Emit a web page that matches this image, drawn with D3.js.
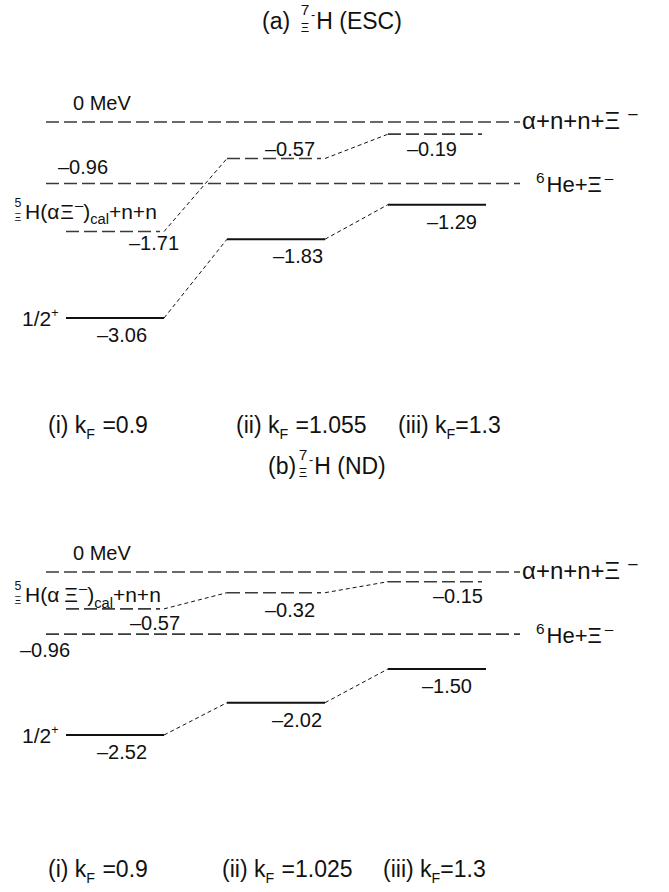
<!DOCTYPE html>
<html>
<head>
<meta charset="utf-8">
<script src="https://cdn.jsdelivr.net/npm/d3@7"></script>
<style>
  html, body { margin: 0; padding: 0; background: #fff; }
  svg { display: block; font-family: "Liberation Sans", Arial, Helvetica, sans-serif; }
  text { fill: #111; }
</style>
</head>
<body>
<svg id="chart" width="669" height="892"></svg>
<script>
// Energy levels of the 7-body Xi hypernucleus for three Fermi momenta (MeV)
const configs = ["(i)", "(ii)", "(iii)"];
const kFEsc = ["0.9", "1.055", "1.3"];
const kFNd = ["0.9", "1.025", "1.3"];
const escGround = [-3.06, -1.83, -1.29];
const escCore = [-1.71, -0.57, -0.19];
const ndGround = [-2.52, -2.02, -1.50];
const ndCore = [-0.57, -0.32, -0.15];
const thresholds = [0, -0.96];

const fmt = v => (v < 0 ? "\u2013" : "") + Math.abs(v).toFixed(2);

const svg = d3.select("#chart");

// Column positions shared by both panels
const x = d3.scaleBand().domain(configs).range([66, 486]).paddingInner(0.391);
const threshX = [46, 520];

// Text with inline super/subscripts
function rich(g, px, py, size, parts, anchor) {
  const t = g.append("text").attr("x", px).attr("y", py)
    .attr("font-size", size).attr("text-anchor", anchor || "start");
  let shift = 0;
  parts.forEach(p => {
    const target = p.pos === "sup" ? -size * 0.42 : p.pos === "sub" ? size * 0.28 : 0;
    t.append("tspan")
      .attr("dy", target - shift)
      .attr("dx", p.dx || 0)
      .attr("font-size", p.pos ? size * (p.scale || 0.62) : size)
      .text(p.t);
    shift = target;
  });
  return t;
}

// Pre-script nuclide symbol: mass number above, Xi below
function prescript(g, px, py, size, mass) {
  g.append("text").attr("x", px).attr("y", py - size * 0.58)
    .attr("font-size", size * 0.62).attr("text-anchor", "middle").text(mass);
  g.append("text").attr("x", px).attr("y", py + size * 0.1)
    .attr("font-size", size * 0.52).attr("text-anchor", "middle").text("\u039E");
}

function drawPanel(opt) {
  const g = svg.append("g");
  const y = opt.y;

  // Title
  const tg = g.append("g");
  rich(tg, opt.titleX, opt.titleY, 23, [{ t: opt.titleHead }]);
  prescript(tg, opt.titleX + opt.preDx, opt.titleY, 25, "7");
  rich(tg, opt.titleX + opt.preDx + 6, opt.titleY, 23,
    [{ t: "-", pos: "sup", scale: 0.55, dx: 0 }, { t: "H " + opt.titleTail, dx: 1 }]);

  // Threshold lines
  g.selectAll("line.thr").data(thresholds).join("line")
    .attr("class", "thr")
    .attr("x1", threshX[0]).attr("x2", threshX[1])
    .attr("y1", d => y(d)).attr("y2", d => y(d))
    .attr("stroke", "#3a3a3a").attr("stroke-width", 1.6)
    .attr("stroke-dasharray", "13,5");

  g.append("text").attr("x", 73).attr("y", y(thresholds[0]) - 12)
    .attr("font-size", 20).text("0 MeV");
  g.append("text").attr("x", opt.thrLabel[0]).attr("y", y(thresholds[1]) + opt.thrLabel[1])
    .attr("font-size", 20).text(fmt(thresholds[1]));

  rich(g, 522, y(thresholds[0]) + 7, 24,
    [{ t: "\u03B1+n+n+\u039E" }, { t: "\u2013", pos: "sup", dx: 8, scale: 0.7 }]);
  rich(g, 536, y(thresholds[1]) + 9, 22,
    [{ t: "6", pos: "sup", scale: 0.7 }, { t: "He+\u039E", dx: 2 }, { t: "\u2013", pos: "sup", dx: 3, scale: 0.7 }]);

  // Connectors between columns
  [opt.core, opt.ground].forEach(series => {
    for (let i = 0; i < series.length - 1; i++) {
      g.append("line")
        .attr("x1", x(configs[i]) + x.bandwidth()).attr("y1", y(series[i]))
        .attr("x2", x(configs[i + 1])).attr("y2", y(series[i + 1]))
        .attr("stroke", "#111").attr("stroke-width", 1)
        .attr("stroke-dasharray", "4,3");
    }
  });

  // Core + n + n levels (dashed)
  g.selectAll("line.core").data(opt.core).join("line")
    .attr("class", "core")
    .attr("x1", (d, i) => x(configs[i])).attr("x2", (d, i) => x(configs[i]) + x.bandwidth() - 4)
    .attr("y1", d => y(d)).attr("y2", d => y(d))
    .attr("stroke", "#3a3a3a").attr("stroke-width", 1.6)
    .attr("stroke-dasharray", "13,5");

  // 1/2+ ground levels (solid)
  g.selectAll("line.gs").data(opt.ground).join("line")
    .attr("class", "gs")
    .attr("x1", (d, i) => x(configs[i])).attr("x2", (d, i) => x(configs[i]) + x.bandwidth())
    .attr("y1", d => y(d)).attr("y2", d => y(d))
    .attr("stroke", "#111").attr("stroke-width", 2);

  // Value labels
  g.selectAll("text.corev").data(opt.core).join("text")
    .attr("class", "corev").attr("font-size", 20).attr("text-anchor", "middle")
    .attr("x", (d, i) => x(configs[i]) + x.bandwidth() / 2 + opt.coreDx[i])
    .attr("y", (d, i) => y(d) + opt.coreDy[i])
    .text(fmt);
  g.selectAll("text.gsv").data(opt.ground).join("text")
    .attr("class", "gsv").attr("font-size", 20).attr("text-anchor", "middle")
    .attr("x", (d, i) => x(configs[i]) + x.bandwidth() / 2 + opt.groundDx[i])
    .attr("y", d => y(d) + 24)
    .text(fmt);

  // Left-hand state labels
  rich(g, 22, y(opt.ground[0]) + 8, 21, [{ t: "1/2" }, { t: "+", pos: "sup", scale: 0.6 }]);
  const ny = y(opt.core[0]) + opt.nucDy;
  prescript(g, 18, ny, 20, "5");
  rich(g, 25, ny, 21, [
    { t: "H(\u03B1" }, { t: "\u039E", dx: opt.xiGap },
    { t: "\u2013", pos: "sup", scale: 0.7, dx: 1 }, { t: ")" },
    { t: "cal", pos: "sub", scale: 0.7 }, { t: "+n+n" }
  ]);

  // Fermi momentum captions
  opt.kF.forEach((k, i) => {
    rich(g, opt.capX[i], opt.capY, 23, [
      { t: configs[i] + " k" }, { t: "F", pos: "sub", scale: 0.62 },
      { t: (i < 2 ? " " : "") + "=" + k, dx: i < 2 ? 1 : 0 }
    ]);
  });
}

drawPanel({
  y: d3.scaleLinear().domain([0, -3.06]).range([122, 318]),
  titleHead: "(a)", titleTail: "(ESC)", titleX: 262, titleY: 29, preDx: 43,
  core: escCore, ground: escGround, kF: kFEsc,
  thrLabel: [58, -9],
  coreDx: [39, 14, -5], coreDy: [18, -3, 22],
  groundDx: [7, 22, 15],
  nucDy: -13, xiGap: 1,
  capX: [48, 236, 398], capY: 433
});

drawPanel({
  y: d3.scaleLinear().domain([0, -2.52]).range([572, 735]),
  titleHead: "(b)", titleTail: "(ND)", titleX: 268, titleY: 474, preDx: 35,
  core: ndCore, ground: ndGround, kF: kFNd,
  thrLabel: [20, 23],
  coreDx: [40, 14, 21], coreDy: [21, 24, 21],
  groundDx: [7, 21, 10],
  nucDy: -7, xiGap: 5,
  capX: [48, 222, 383], capY: 877
});
</script>
</body>
</html>
